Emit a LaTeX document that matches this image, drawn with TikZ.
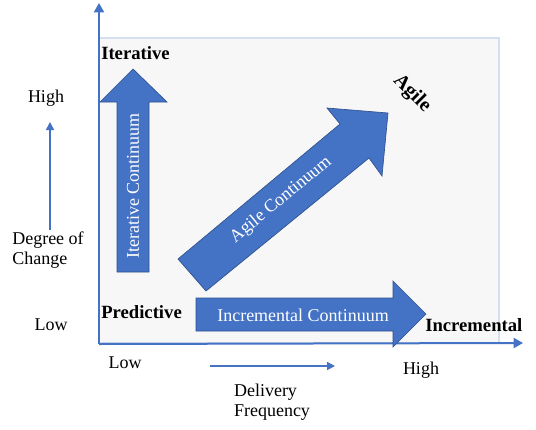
\documentclass[tikz,border=0pt]{standalone}
\usepackage{fontspec}
\setmainfont{Liberation Serif}
\usetikzlibrary{arrows.meta}
\definecolor{arrowblue}{HTML}{4472C4}
\definecolor{arrowedge}{HTML}{2F528F}
\definecolor{panelfill}{HTML}{F7F7F7}
\definecolor{paneledge}{HTML}{D6DFEF}
\tikzset{
  fatarrow/.style={fill=arrowblue,draw=arrowedge,line width=0.5pt,line join=miter},
  axisline/.style={arrowblue,line width=1.5pt,-{Triangle[length=7pt,width=7.5pt]}},
  hintline/.style={arrowblue,line width=1.2pt,-{Triangle[length=6pt,width=6pt]}},
  corner/.style={font=\bfseries\fontsize{14}{15}\selectfont,inner sep=0pt},
  scalelabel/.style={font=\fontsize{13.5}{15}\selectfont,inner sep=0pt},
  inlabel/.style={font=\fontsize{13.5}{15}\selectfont,text=white,inner sep=0pt}
}
\begin{document}
\begin{tikzpicture}[x=0.75pt,y=-0.75pt]
\useasboundingbox (0,0) rectangle (536,429);
% panel and axes
\draw[paneledge,fill=panelfill,line width=1pt] (99,38) rectangle (499,343);
\coordinate (origin) at (99,344);
\coordinate (ytop) at (99,3);
\coordinate (xend) at (523,343);
\draw[axisline] (origin) -- (ytop);
\draw[axisline] (origin) -- (xend);

% the three continua
\draw[fatarrow] (117,272) -- (117,102) -- (100,102) -- (133,69) -- (167,102) -- (149,102) -- (149,272) -- cycle;
\draw[fatarrow] (196,298) -- (393,298) -- (393,281) -- (426,314) -- (393,347) -- (393,331) -- (196,331) -- cycle;
\draw[fatarrow] (178,259) -- (340,124) -- (327,108) -- (388,113) -- (382,176) -- (369,158) -- (206,291) -- cycle;
\node[inlabel,rotate=90] (itcont) at (133,186) {Iterative Continuum};
\node[inlabel] (inccont) at (303,315) {Incremental Continuum};
\node[inlabel,rotate=39.5] (agcont) at (281,200) {Agile Continuum};

% corners
\node[corner,anchor=west] (iterative) at (101,53) {Iterative};
\node[corner,anchor=west] (predictive) at (101,312) {Predictive};
\node[corner,anchor=west] (incremental) at (425,325) {Incremental};
\node[corner,rotate=-45,font=\bfseries\fontsize{15}{15}\selectfont] (agile) at (412,94) {Agile};

% degree of change
\node[scalelabel] (yhigh) at (46,98) {High};
\node[scalelabel] (ylow) at (51,325) {Low};
\node[scalelabel,align=left] (degree) at (48,250) {Degree of\\Change};
\coordinate (dstart) at (50,230);
\coordinate (dend) at (50,122);
\draw[hintline] (dstart) -- (dend);

% delivery frequency
\node[scalelabel] (xlow) at (125,363) {Low};
\node[scalelabel] (xhigh) at (421,370) {High};
\node[scalelabel,align=left] (delivery) at (272,402) {Delivery\\Frequency};
\coordinate (fstart) at (210,366);
\coordinate (fend) at (335,366);
\draw[hintline] (fstart) -- (fend);

\end{tikzpicture}
\end{document}
